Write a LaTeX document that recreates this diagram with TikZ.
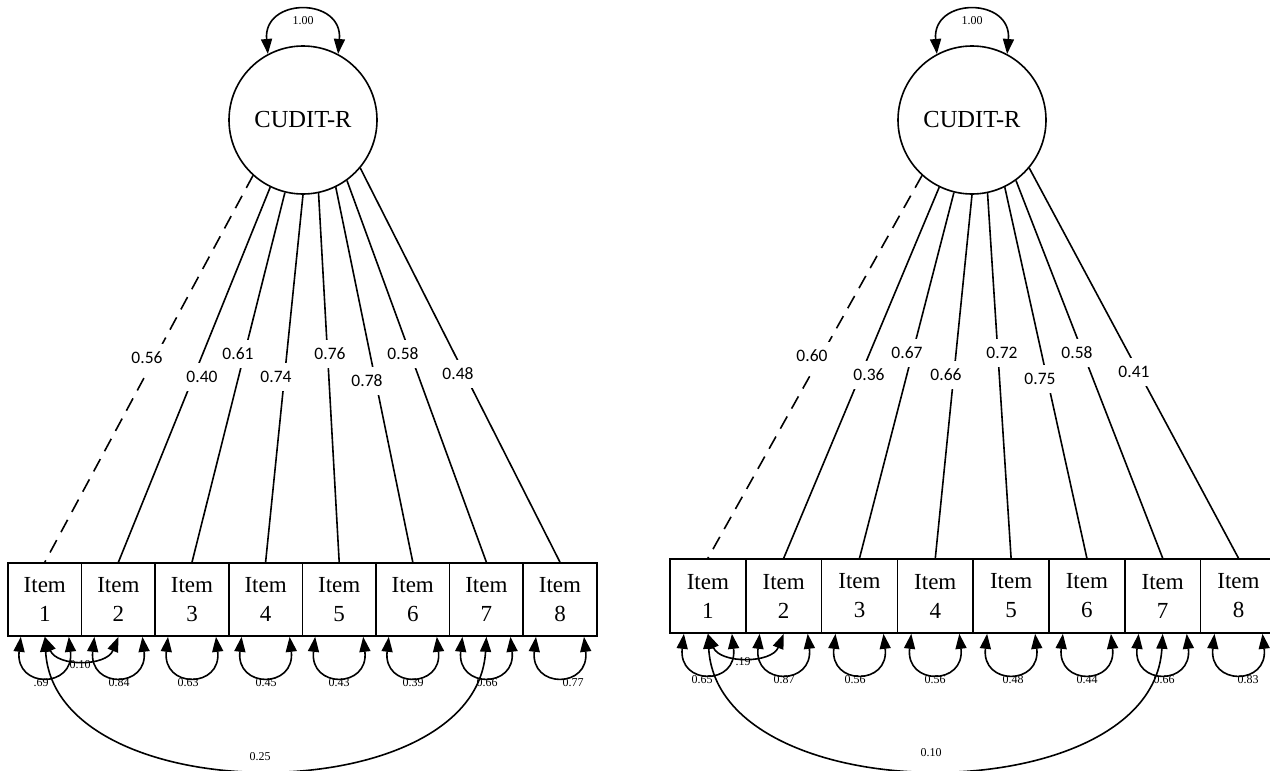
\documentclass[tikz,border=0pt]{standalone}
\usepackage{fontspec}
\setmainfont{Liberation Serif}
\newfontfamily\loadfont{Carlito}
\usetikzlibrary{arrows.meta}
\begin{document}
\begin{tikzpicture}[x=1pt,y=-1pt,line width=1.6pt,
  >={Triangle[length=15pt,width=11pt]},
  latent/.style={circle,draw,minimum size=148pt,inner sep=0pt,font=\fontsize{24.5}{28}\selectfont},
  itemL/.style={rectangle,draw,minimum width=73.6pt,minimum height=73pt,inner sep=0pt,align=center,font=\fontsize{23}{29}\selectfont},
  itemR/.style={rectangle,draw,minimum width=75.8pt,minimum height=74pt,inner sep=0pt,align=center,font=\fontsize{23}{29}\selectfont},
  loadlab/.style={fill=white,inner xsep=2pt,inner ysep=0pt,minimum height=28pt,font=\loadfont\fontsize{17.5}{19}\selectfont},
  reslab/.style={inner sep=0pt,font=\fontsize{12}{14}\selectfont},
  cov/.style={<->},
  dashline/.style={dash pattern=on 14pt off 9pt}
]
\useasboundingbox (0,0) rectangle (1270,771);
\clip (0,0) rectangle (1270,771);

% ---------------- left panel ----------------
\node[latent] (L) at (303,120) {CUDIT-R};
\foreach \i in {1,...,8}{
  \node[itemL] (a\i) at ({8+73.6*(\i-0.5)},599.5) {Item\\\i};
}
\draw[dashline] (L.-132) -- (a1.north);
\foreach \i/\ang in {2/-116.6,3/-104.4,4/-90.2,5/-78.2,6/-64,7/-54,8/-40.7}{
  \draw (L.\ang) -- (a\i.north);
}
\foreach \i/\x/\y/\t in {1/147/358/0.56,2/202/377/0.40,3/238/354/0.61,4/276/377/0.74,5/330/354/0.76,6/367/381/0.78,7/403/354/0.58,8/458/374/0.48}{
  \node[loadlab] (la\i) at (\x,\y) {\t};
}
% residuals
\foreach \i in {1,...,8}{
  \draw[cov] ([xshift=-24pt]a\i.south) .. controls +(-6,52) and +(6,52) .. ([xshift=24pt]a\i.south);
}
\foreach \i/\x/\t in {1/41/.69,2/119/0.84,3/188/0.63,4/266/0.45,5/339/0.43,6/413/0.39,7/487/0.66,8/573/0.77}{
  \node[reslab] (ra\i) at (\x,683) {\t};
}
% covariances
\draw[cov] (a1.south) .. controls +(12,30) and +(-12,30) .. (a2.south);
\node[reslab] (ca12) at (80,665) {0.10};
\draw[cov] (a1.south) .. controls +(10,176) and +(-10,176) .. (a7.south);
\node[reslab] (ca17) at (260,757) {0.25};
% latent variance
\draw[cov] (L.118) .. controls +(-5,-57) and +(5,-57) .. (L.62);
\node[reslab] (va) at (303,21) {1.00};

% ---------------- right panel ----------------
\node[latent] (R) at (972,120) {CUDIT-R};
\foreach \i in {1,...,8}{
  \node[itemR] (b\i) at ({670+75.8*(\i-0.5)},596) {Item\\\i};
}
\draw[dashline] (R.-132) -- (b1.north);
\foreach \i/\ang in {2/-116.6,3/-104.4,4/-90.2,5/-78.2,6/-64,7/-54,8/-40.7}{
  \draw (R.\ang) -- (b\i.north);
}
\foreach \i/\x/\y/\t in {1/812/356/0.60,2/869/375/0.36,3/907/353/0.67,4/946/375/0.66,5/1002/353/0.72,6/1040/379/0.75,7/1077/353/0.58,8/1134/372/0.41}{
  \node[loadlab] (lb\i) at (\x,\y) {\t};
}
\foreach \i in {1,...,8}{
  \draw[cov] ([xshift=-24pt]b\i.south) .. controls +(-6,52) and +(6,52) .. ([xshift=24pt]b\i.south);
}
\foreach \i/\x/\t in {1/702/0.65,2/784/0.87,3/855/0.56,4/935/0.56,5/1013/0.48,6/1087/0.44,7/1164/0.66,8/1248/0.83}{
  \node[reslab] (rb\i) at (\x,680) {\t};
}
\draw[cov] (b1.south) .. controls +(12,30) and +(-12,30) .. (b2.south);
\node[reslab] (cb12) at (743,662) {.19};
\draw[cov] (b1.south) .. controls +(10,180) and +(-10,180) .. (b7.south);
\node[reslab] (cb17) at (931,753) {0.10};
\draw[cov] (R.118) .. controls +(-5,-57) and +(5,-57) .. (R.62);
\node[reslab] (vb) at (972,21) {1.00};
\end{tikzpicture}
\end{document}
